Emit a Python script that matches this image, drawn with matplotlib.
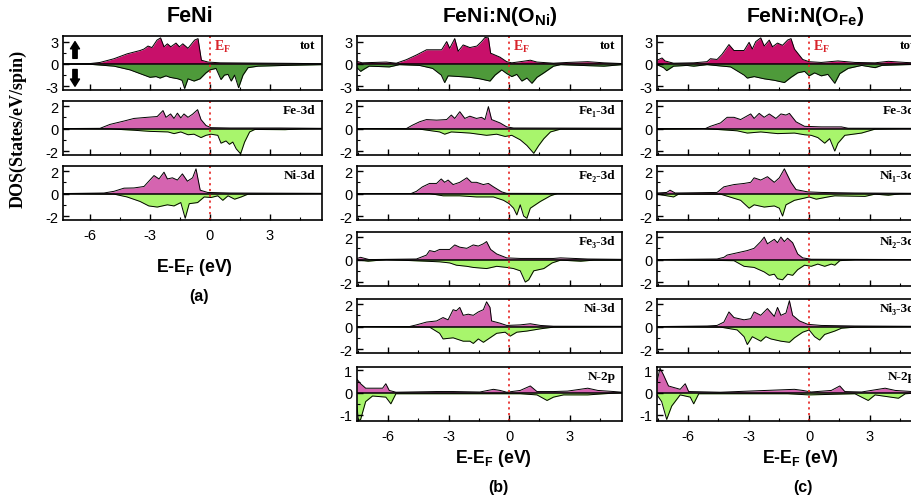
import numpy as np
import matplotlib
matplotlib.use('Agg')
import matplotlib.pyplot as plt
from matplotlib.ticker import MultipleLocator

plt.rcParams['font.family'] = ['Liberation Sans', 'DejaVu Sans']
plt.rcParams['axes.unicode_minus'] = False
plt.rcParams['mathtext.fontset'] = 'custom'
plt.rcParams['mathtext.rm'] = 'Liberation Sans'
plt.rcParams['mathtext.bf'] = 'Liberation Sans:bold'
plt.rcParams['mathtext.sf'] = 'Liberation Serif:bold'

# ---- data: (E - E_F, DOS) ----
# (a) FeNi
a_tot_up = [(-7.4, 0.02), (-6.0, 0.05), (-5.5, 0.2), (-4.8, 0.7), (-4.15, 1.35), (-3.5, 1.8), (-3.3, 2.0),
            (-3.1, 2.4), (-2.9, 2.2), (-2.65, 3.2), (-2.47, 3.5), (-2.3, 2.3), (-2.13, 2.7), (-1.96, 2.3),
            (-1.7, 2.8), (-1.53, 2.3), (-1.36, 2.7), (-1.1, 2.1), (-0.77, 3.2), (-0.6, 3.4), (-0.43, 0.5),
            (-0.1, 0.25), (0.5, 0.15), (2.0, 0.12), (4.0, 0.08), (5.6, 0.03)]
a_tot_dn = [(-7.4, -0.02), (-6.0, -0.05), (-4.8, -0.3), (-4.0, -0.8), (-3.5, -1.3), (-3.0, -1.8), (-2.7, -1.7),
            (-2.5, -1.9), (-2.2, -1.6), (-2.0, -1.8), (-1.6, -2.0), (-1.4, -2.2), (-1.27, -3.3), (-1.1, -2.0),
            (-0.8, -2.3), (-0.5, -2.0), (-0.2, -1.2), (0.0, -0.8), (0.3, -0.6), (0.55, -2.1), (0.72, -1.5),
            (0.9, -1.4), (1.06, -2.3), (1.23, -1.5), (1.43, -3.2), (1.65, -1.5), (1.9, -0.5), (2.4, -0.3),
            (3.75, -0.2), (5.6, -0.1)]
a_fe_up = [(-7.4, 0.0), (-5.5, 0.02), (-5.0, 0.37), (-4.3, 0.67), (-3.8, 0.9), (-3.15, 1.0), (-2.64, 1.07),
           (-2.35, 1.6), (-2.2, 1.0), (-1.97, 1.3), (-1.8, 0.9), (-1.63, 1.37), (-1.46, 0.95), (-1.3, 1.3),
           (-1.1, 1.0), (-0.87, 1.28), (-0.62, 1.68), (-0.45, 0.8), (-0.2, 0.27), (0.05, 0.08), (1.0, 0.05),
           (3.5, 0.05), (5.6, 0.02)]
a_fe_dn = [(-7.4, 0.0), (-5.0, -0.03), (-3.8, -0.15), (-3.0, -0.25), (-2.1, -0.3), (-1.8, -0.45), (-1.46, -0.3),
           (-1.1, -0.55), (-0.8, -0.5), (-0.45, -0.8), (-0.2, -0.6), (0.05, -0.5), (0.39, -0.6), (0.55, -1.3),
           (0.8, -1.1), (0.97, -1.4), (1.14, -1.2), (1.31, -1.8), (1.53, -2.25), (1.73, -1.2), (1.98, -0.3),
           (2.24, -0.08), (3.75, -0.1), (4.6, -0.02), (5.6, 0.0)]
a_ni_up = [(-7.4, 0.0), (-5.3, 0.05), (-4.8, 0.2), (-4.3, 0.48), (-3.8, 0.5), (-3.3, 0.63), (-2.8, 1.6),
           (-2.55, 1.3), (-2.3, 1.9), (-2.13, 1.3), (-1.88, 1.4), (-1.63, 1.2), (-1.38, 1.75), (-1.13, 1.1),
           (-0.87, 1.4), (-0.7, 2.2), (-0.49, 0.3), (-0.12, 0.1), (1.0, 0.05), (5.6, 0.02)]
a_ni_dn = [(-7.4, 0.0), (-4.8, -0.05), (-4.15, -0.3), (-3.5, -0.7), (-3.06, -1.1), (-2.64, -1.2), (-2.13, -1.0),
           (-1.8, -1.1), (-1.46, -0.8), (-1.24, -2.2), (-1.04, -0.9), (-0.62, -0.8), (-0.29, -0.3), (0.05, -0.35),
           (0.39, -0.2), (0.64, -0.6), (0.9, -0.2), (1.23, -0.5), (1.56, -0.3), (1.9, -0.05), (5.6, 0.0)]

# (b) FeNi:N(O_Ni)
b_tot_up = [(-7.55, 0.35), (-7.3, 0.15), (-6.1, 0.25), (-5.6, 0.1), (-5.1, 0.57), (-4.6, 1.2), (-4.1, 1.9),
            (-3.7, 1.9), (-3.35, 1.9), (-3.1, 3.0), (-2.95, 2.1), (-2.7, 3.4), (-2.53, 1.7), (-2.28, 2.55),
            (-1.95, 2.2), (-1.6, 2.4), (-1.37, 3.0), (-1.2, 3.55), (-1.03, 3.5), (-0.92, 1.45), (-0.45, 0.9),
            (-0.12, 0.3), (0.13, 0.15), (0.55, 0.3), (1.05, 0.5), (1.38, 0.25), (2.2, 0.1), (2.9, 0.2),
            (3.9, 0.3), (4.7, 0.15), (5.6, 0.05)]
b_tot_dn = [(-7.55, -0.5), (-7.37, -1.0), (-7.2, -0.7), (-6.95, -0.3), (-5.95, -0.4), (-5.45, -0.1),
            (-4.45, -0.2), (-3.8, -0.6), (-3.37, -1.5), (-3.2, -2.5), (-3.03, -1.6), (-2.45, -1.7), (-1.95, -1.8),
            (-1.45, -2.0), (-1.12, -2.2), (-0.95, -2.3), (-0.7, -1.5), (-0.37, -0.8), (-0.12, -1.3),
            (0.13, -1.7), (0.38, -1.4), (0.63, -2.3), (0.88, -1.9), (1.13, -2.6), (1.38, -1.8), (1.72, -1.2),
            (2.2, -0.3), (2.55, -0.1), (3.55, -0.2), (4.7, -0.3), (5.6, -0.1)]
b_fe1_up = [(-7.55, 0.0), (-5.1, 0.0), (-4.8, 0.3), (-4.45, 0.6), (-4.1, 0.8), (-3.6, 0.75), (-3.1, 0.8),
            (-2.87, 1.2), (-2.7, 0.9), (-2.45, 1.5), (-2.2, 0.9), (-1.95, 1.1), (-1.62, 0.9), (-1.37, 1.0),
            (-1.2, 0.8), (-1.03, 1.95), (-0.87, 0.8), (-0.45, 0.5), (-0.12, 0.15), (0.22, 0.05), (5.6, 0.03)]
b_fe1_dn = [(-7.55, 0.0), (-4.45, -0.05), (-3.45, -0.3), (-3.2, -0.5), (-2.87, -0.3), (-1.95, -0.4),
            (-1.12, -0.6), (-0.62, -0.5), (-0.2, -0.7), (0.13, -0.6), (0.55, -1.0), (0.88, -1.5), (1.22, -2.2),
            (1.47, -1.5), (1.72, -0.9), (2.05, -0.3), (2.55, -0.05), (5.6, -0.05)]
b_fe2_up = [(-7.55, 0.0), (-4.87, 0.0), (-4.6, 0.2), (-4.3, 0.6), (-3.95, 0.9), (-3.6, 0.9), (-3.37, 1.3),
            (-3.2, 1.0), (-3.03, 1.2), (-2.78, 0.8), (-2.45, 1.0), (-2.1, 1.4), (-1.87, 1.0), (-1.62, 1.0),
            (-1.28, 0.8), (-1.03, 0.9), (-0.78, 0.6), (-0.37, 0.15), (-0.12, 0.02), (5.6, 0.0)]
b_fe2_dn = [(-7.55, 0.0), (-3.95, 0.0), (-3.28, -0.2), (-2.45, -0.2), (-1.62, -0.3), (-0.78, -0.3),
            (-0.28, -0.6), (0.0, -0.9), (0.22, -1.3), (0.38, -1.9), (0.55, -1.0), (0.72, -2.0), (0.88, -2.2),
            (1.05, -1.3), (1.3, -1.0), (1.55, -0.7), (2.05, -0.2), (2.38, 0.0), (5.6, 0.0)]
b_fe3_up = [(-7.55, 0.1), (-7.37, 0.2), (-6.95, 0.0), (-4.6, 0.05), (-4.1, 0.4), (-3.95, 0.8), (-3.7, 0.7),
            (-3.45, 0.9), (-2.95, 0.9), (-2.7, 1.3), (-2.45, 1.1), (-2.1, 1.0), (-1.78, 1.3), (-1.53, 1.2),
            (-1.28, 1.4), (-1.12, 1.6), (-0.92, 0.9), (-0.62, 0.5), (-0.12, 0.15), (0.55, 0.1), (2.2, 0.1),
            (2.55, 0.15), (3.9, 0.05), (5.6, 0.02)]
b_fe3_dn = [(-7.55, 0.0), (-7.45, -0.05), (-7.0, -0.15), (-6.1, 0.0), (-3.45, -0.2), (-2.95, -0.3),
            (-2.62, -0.5), (-2.1, -0.6), (-1.78, -0.7), (-1.12, -0.8), (-0.62, -0.6), (-0.12, -0.7),
            (0.22, -0.8), (0.55, -1.0), (0.8, -2.0), (0.97, -1.8), (1.22, -1.0), (1.72, -0.8), (2.13, -0.3),
            (2.55, -0.05), (3.55, -0.15), (4.2, -0.05), (5.6, -0.05)]
b_ni_up = [(-7.55, 0.0), (-4.95, 0.0), (-4.6, 0.15), (-4.1, 0.4), (-3.6, 0.5), (-3.28, 0.8), (-3.03, 0.6),
           (-2.78, 1.5), (-2.62, 1.4), (-2.45, 1.7), (-2.28, 1.0), (-2.03, 1.1), (-1.78, 1.0), (-1.53, 1.3),
           (-1.28, 1.5), (-1.12, 2.2), (-0.95, 1.7), (-0.87, 0.5), (-0.45, 0.3), (-0.12, 0.1), (0.55, 0.15),
           (1.05, 0.25), (1.55, 0.1), (2.2, 0.03), (5.6, 0.02)]
b_ni_dn = [(-7.55, 0.0), (-3.95, -0.05), (-3.45, -0.6), (-3.28, -1.1), (-2.78, -1.0), (-2.28, -1.3),
           (-1.95, -1.3), (-1.78, -1.5), (-1.53, -1.1), (-1.28, -1.4), (-0.95, -1.0), (-0.62, -0.6),
           (-0.2, -0.5), (0.05, -0.85), (0.38, -0.5), (0.88, -0.4), (1.55, -0.2), (2.2, -0.05), (5.6, 0.0)]
b_n_up = [(-7.55, 0.6), (-7.37, 0.4), (-7.12, 0.2), (-6.28, 0.2), (-6.12, 0.4), (-5.95, 0.1), (-5.62, 0.02),
          (-3.6, 0.05), (-2.78, 0.05), (-1.45, 0.03), (-0.78, 0.15), (-0.45, 0.1), (-0.12, 0.02), (0.55, 0.1),
          (1.05, 0.3), (1.38, 0.05), (2.2, 0.05), (2.9, 0.07), (3.9, 0.2), (4.4, 0.1), (5.2, 0.05), (5.6, 0.02)]
b_n_dn = [(-7.55, -0.6), (-7.48, -1.25), (-7.37, -1.2), (-7.12, -0.4), (-6.78, -0.15), (-6.12, -0.2),
          (-5.87, -0.5), (-5.62, -0.05), (-1.95, -0.05), (0.55, -0.05), (1.38, -0.1), (1.88, -0.35),
          (2.2, -0.2), (2.7, -0.1), (3.9, -0.1), (4.7, -0.05), (5.6, 0.0)]

# (c) FeNi:N(O_Fe)
c_tot_up = [(-7.55, 0.5), (-7.3, 0.8), (-7.15, 0.4), (-6.73, 0.1), (-5.73, 0.15), (-5.07, 0.3), (-4.9, 0.7),
            (-4.57, 0.6), (-4.32, 1.3), (-3.98, 2.6), (-3.73, 1.8), (-3.23, 1.8), (-2.98, 2.9), (-2.82, 2.0),
            (-2.65, 3.0), (-2.4, 3.5), (-2.23, 2.4), (-1.98, 3.2), (-1.82, 2.3), (-1.57, 2.8), (-1.32, 2.5),
            (-1.07, 3.2), (-0.9, 3.4), (-0.73, 2.0), (-0.32, 0.6), (0.0, 0.3), (0.6, 0.2), (1.43, 0.4),
            (2.27, 0.2), (3.27, 0.15), (3.93, 0.35), (4.77, 0.2), (5.6, 0.1)]
c_tot_dn = [(-7.55, -0.1), (-7.23, -0.5), (-7.07, -0.9), (-6.73, -0.3), (-6.07, -0.2), (-5.73, -0.3),
            (-5.07, -0.1), (-3.9, -0.4), (-3.23, -1.5), (-3.07, -1.9), (-2.73, -1.7), (-2.23, -2.0),
            (-1.73, -2.2), (-1.23, -2.5), (-0.9, -1.8), (-0.57, -1.2), (-0.23, -1.0), (0.0, -1.6),
            (0.27, -1.2), (0.6, -1.6), (0.93, -1.4), (1.27, -2.6), (1.52, -1.3), (1.93, -0.6), (2.6, -0.2),
            (3.27, -0.5), (3.6, -0.2), (4.77, -0.1), (5.6, -0.05)]
c_fe_up = [(-7.55, 0.0), (-5.15, 0.0), (-4.9, 0.2), (-4.4, 0.5), (-4.07, 1.0), (-3.73, 1.0), (-3.4, 0.8),
           (-2.9, 1.3), (-2.73, 0.9), (-2.48, 1.35), (-2.23, 1.0), (-1.98, 1.3), (-1.65, 0.9), (-1.4, 1.3),
           (-1.15, 1.2), (-0.98, 1.35), (-0.65, 0.6), (-0.23, 0.2), (0.6, 0.15), (1.6, 0.15), (1.93, 0.03),
           (5.6, 0.02)]
c_fe_dn = [(-7.55, -0.05), (-5.23, 0.0), (-3.57, -0.2), (-3.07, -0.4), (-2.4, -0.3), (-1.57, -0.45),
           (-0.73, -0.4), (-0.23, -0.55), (0.1, -0.6), (0.43, -0.8), (0.77, -1.3), (1.02, -0.9), (1.27, -2.0),
           (1.43, -1.3), (1.77, -0.6), (2.6, -0.4), (3.27, -0.05), (4.6, 0.0), (5.6, 0.0)]
c_ni1_up = [(-7.55, 0.05), (-7.07, 0.1), (-6.9, 0.3), (-6.65, 0.05), (-4.57, 0.1), (-4.23, 0.6), (-3.73, 0.8),
            (-3.23, 0.9), (-2.9, 1.0), (-2.73, 1.4), (-2.4, 1.2), (-2.07, 1.5), (-1.73, 1.0), (-1.48, 1.4),
            (-1.23, 2.2), (-0.9, 1.0), (-0.65, 0.35), (-0.07, 0.15), (0.6, 0.1), (2.27, 0.05), (5.6, 0.02)]
c_ni1_dn = [(-7.55, -0.05), (-6.73, -0.3), (-6.48, -0.05), (-4.4, -0.05), (-3.4, -0.6), (-2.98, -1.3),
            (-2.73, -1.0), (-2.23, -1.2), (-1.73, -1.1), (-1.48, -1.3), (-1.32, -2.0), (-1.15, -1.0),
            (-0.73, -0.6), (-0.23, -0.4), (0.0, -0.3), (0.35, -0.5), (0.93, -0.3), (1.27, -0.2), (2.77, -0.25),
            (3.27, -0.05), (3.93, -0.15), (4.5, -0.02), (5.6, 0.0)]
c_ni2_up = [(-7.55, 0.0), (-4.57, 0.05), (-4.23, 0.2), (-4.07, 0.4), (-3.57, 0.6), (-3.07, 0.8), (-2.73, 1.0),
            (-2.4, 1.6), (-2.23, 2.0), (-2.07, 1.4), (-1.73, 1.8), (-1.57, 1.5), (-1.4, 2.0), (-1.23, 1.6),
            (-1.07, 1.9), (-0.82, 1.5), (-0.57, 0.5), (-0.32, 0.15), (0.1, 0.03), (5.6, 0.0)]
c_ni2_dn = [(-7.55, 0.0), (-3.73, -0.1), (-3.23, -0.6), (-2.73, -0.7), (-2.23, -1.1), (-1.98, -1.4),
            (-1.73, -1.3), (-1.57, -1.7), (-1.32, -1.8), (-1.07, -1.3), (-0.82, -1.4), (-0.57, -0.9),
            (-0.23, -0.5), (0.1, -0.6), (0.43, -0.4), (0.77, -0.6), (1.1, -0.4), (1.27, -0.5), (1.52, -0.1),
            (2.27, 0.0), (5.6, 0.0)]
c_ni3_up = [(-7.55, 0.0), (-5.07, 0.05), (-4.57, 0.1), (-4.23, 0.4), (-3.98, 1.3), (-3.73, 0.8), (-3.23, 0.6),
            (-2.9, 0.7), (-2.73, 1.3), (-2.4, 1.0), (-2.07, 1.6), (-1.73, 0.9), (-1.57, 1.7), (-1.4, 1.0),
            (-1.15, 1.2), (-0.98, 2.3), (-0.82, 1.0), (-0.48, 0.5), (-0.07, 0.2), (0.6, 0.1), (2.27, 0.05),
            (5.6, 0.02)]
c_ni3_dn = [(-7.55, 0.0), (-4.4, -0.05), (-3.57, -0.3), (-3.23, -0.9), (-3.07, -1.6), (-2.82, -0.9),
            (-2.4, -1.3), (-2.15, -0.9), (-1.9, -1.1), (-1.4, -1.3), (-0.98, -1.4), (-0.73, -1.0), (-0.32, -0.5),
            (0.0, -0.3), (0.27, -0.9), (0.52, -1.2), (0.77, -0.7), (1.27, -0.4), (1.6, -0.15), (2.27, -0.05),
            (5.6, 0.0)]
c_n_up = [(-7.55, 0.5), (-7.4, 1.1), (-7.23, 0.8), (-6.98, 0.3), (-6.4, 0.15), (-6.15, 0.4), (-5.98, 0.05),
          (-4.4, 0.02), (-0.73, 0.15), (-0.32, 0.1), (0.1, 0.03), (1.1, 0.1), (1.52, 0.3), (1.77, 0.05),
          (2.6, 0.03), (3.77, 0.2), (4.27, 0.1), (5.1, 0.05), (5.6, 0.02)]
c_n_dn = [(-7.55, -0.1), (-7.32, -0.4), (-7.07, -1.2), (-6.82, -0.6), (-6.4, -0.1), (-5.9, -0.2), (-5.73, -0.5),
          (-5.48, -0.05), (-1.07, -0.05), (0.0, -0.1), (2.27, -0.05), (2.93, -0.35), (3.27, -0.1), (4.43, -0.25),
          (4.77, -0.05), (5.6, 0.0)]

a_labels = ['tot', 'Fe-3d', 'Ni-3d']
b_labels = ['tot', 'Fe\u2081-3d', 'Fe\u2082-3d', 'Fe\u2083-3d', 'Ni-3d', 'N-2p']
c_labels = ['tot', 'Fe-3d', 'Ni\u2081-3d', 'Ni\u2082-3d', 'Ni\u2083-3d', 'N-2p']

a_curves = [(a_tot_up, a_tot_dn), (a_fe_up, a_fe_dn), (a_ni_up, a_ni_dn)]
b_curves = [(b_tot_up, b_tot_dn), (b_fe1_up, b_fe1_dn), (b_fe2_up, b_fe2_dn),
            (b_fe3_up, b_fe3_dn), (b_ni_up, b_ni_dn), (b_n_up, b_n_dn)]
c_curves = [(c_tot_up, c_tot_dn), (c_fe_up, c_fe_dn), (c_ni1_up, c_ni1_dn),
            (c_ni2_up, c_ni2_dn), (c_ni3_up, c_ni3_dn), (c_n_up, c_n_dn)]

TOT_UP, TOT_DN = '#C8106A', '#4E9A3A'
P_UP, P_DN = '#D564B0', '#A8F56C'

W, H = 911, 502
fig = plt.figure(figsize=(W / 100, H / 100), dpi=100)

tops = [37, 102, 167, 233, 300, 368]
ph = 54
serif = ['Liberation Serif', 'DejaVu Serif']


def draw_panel(ax, up, dn, label, kind, xlim, last, first):
    eu, vu = np.array(up).T
    ed, vd = np.array(dn).T
    cu, cd = (TOT_UP, TOT_DN) if kind == 'tot' else (P_UP, P_DN)
    ax.fill_between(eu, vu, 0, color=cu, lw=0)
    ax.fill_between(ed, vd, 0, color=cd, lw=0)
    ax.plot(eu, vu, color='k', lw=0.7)
    ax.plot(ed, vd, color='k', lw=0.7)
    ax.axhline(0, color='k', lw=1.1)
    ax.axvline(0, color='#E8302E', ls=(0, (1.2, 2.0)), lw=1.3)
    if kind == 'tot':
        ax.set_ylim(-3.5, 3.75)
        ax.yaxis.set_major_locator(MultipleLocator(3))
        ax.yaxis.set_minor_locator(MultipleLocator(1.5))
    elif kind == 'N':
        ax.set_ylim(-1.27, 1.15)
        ax.yaxis.set_major_locator(MultipleLocator(1))
        ax.yaxis.set_minor_locator(MultipleLocator(0.5))
    else:
        ax.set_ylim(-2.35, 2.45)
        ax.yaxis.set_major_locator(MultipleLocator(2))
        ax.yaxis.set_minor_locator(MultipleLocator(1))
    ax.set_xlim(*xlim)
    ax.xaxis.set_major_locator(MultipleLocator(3))
    ax.xaxis.set_minor_locator(MultipleLocator(1.5))
    ax.tick_params(which='both', direction='in', top=False, right=False, labelsize=10.5)
    ax.tick_params(which='major', length=4, width=1.0)
    ax.tick_params(which='minor', length=2.5, width=0.8)
    ax.tick_params(axis='x', pad=6)
    if not last:
        ax.tick_params(axis='x', labelbottom=False)
    for s in ax.spines.values():
        s.set_linewidth(1.2)
    ax.text(0.975, 0.83, label, transform=ax.transAxes, ha='right', va='center',
            family=serif, fontweight='bold', fontsize=9.5)
    if first:
        ax.text(0.18, 2.5, r'E$_{\mathsf{F}}$', color='#D8232A', family=serif,
                fontweight='bold', fontsize=10, va='center', ha='left')


cols = [(63, 259, (-7.35, 5.6), a_curves, a_labels),
        (357, 265, (-7.55, 5.6), b_curves, b_labels),
        (657, 265, (-7.55, 5.6), c_curves, c_labels)]

axes_cols = []
for left, width, xlim, curves, labels in cols:
    col = []
    n = len(curves)
    for i, ((up, dn), lab) in enumerate(zip(curves, labels)):
        top = tops[i]
        ax = fig.add_axes([left / W, 1 - (top + ph) / H, width / W, ph / H])
        kind = 'tot' if i == 0 else ('N' if lab == 'N-2p' else 'pd')
        draw_panel(ax, up, dn, lab, kind, xlim, i == n - 1, i == 0)
        col.append(ax)
    axes_cols.append(col)

# spin arrows in (a)
ax0 = axes_cols[0][0]
style = 'simple,head_width=0.5,head_length=0.4,tail_width=0.24'
ax0.annotate('', xy=(-6.75, 3.0), xytext=(-6.75, 0.75),
             arrowprops=dict(arrowstyle=style, fc='k', ec='k', mutation_scale=13, shrinkA=0, shrinkB=0))
ax0.annotate('', xy=(-6.75, -3.0), xytext=(-6.75, -0.75),
             arrowprops=dict(arrowstyle=style, fc='k', ec='k', mutation_scale=13, shrinkA=0, shrinkB=0))

# titles, axis labels
fig.text(190 / W, 1 - 17 / H, 'FeNi', ha='center', va='center', fontsize=15.5, fontweight='bold')
fig.text(500 / W, 1 - 17 / H, r'FeNi:N(O$_{\mathbf{Ni}}$)', ha='center', va='center',
         fontsize=15.3, fontweight='bold')
fig.text(805 / W, 1 - 17 / H, r'FeNi:N(O$_{\mathbf{Fe}}$)', ha='center', va='center',
         fontsize=15.3, fontweight='bold')

xl = r'E-E$_{\mathbf{F}}$ (eV)'
fig.text(194 / W, 1 - 268 / H, xl, ha='center', va='center', fontsize=12.7, fontweight='bold')
fig.text(493 / W, 1 - 459 / H, xl, ha='center', va='center', fontsize=12.7, fontweight='bold')
fig.text(800 / W, 1 - 459 / H, xl, ha='center', va='center', fontsize=12.7, fontweight='bold')

fig.text(199 / W, 1 - 297 / H, '(a)', ha='center', va='center', fontsize=11.5, fontweight='bold')
fig.text(498 / W, 1 - 488 / H, '(b)', ha='center', va='center', fontsize=11.5, fontweight='bold')
fig.text(803 / W, 1 - 488 / H, '(c)', ha='center', va='center', fontsize=11.5, fontweight='bold')

fig.text(18 / W, 1 - 129 / H, 'DOS(States/eV/spin)', rotation=90, ha='center', va='center',
         family=serif, fontweight='bold', fontsize=13)

fig.savefig('out.png', dpi=100)
